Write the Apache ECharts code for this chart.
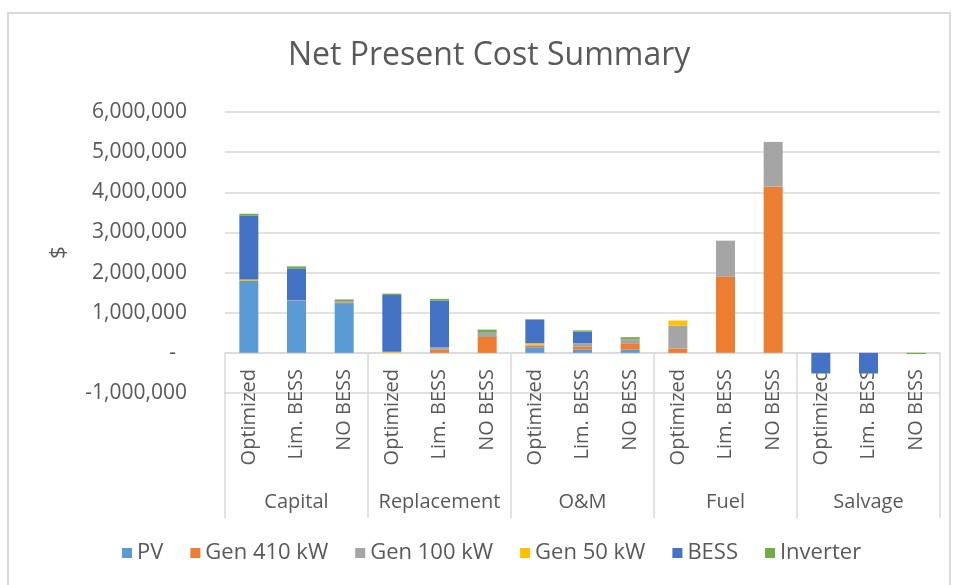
<!DOCTYPE html>
<html>
<head>
<meta charset="utf-8">
<script src="https://cdn.jsdelivr.net/npm/echarts@6/dist/echarts.min.js"></script>
<style>
  html, body { margin: 0; padding: 0; background: #fff; }
  #chart { width: 958px; height: 585px; }
</style>
</head>
<body>
<div id="chart"></div>
<script>
// 类目（内层 / 外层）
var scenarios = ['Optimized', 'Lim. BESS', 'NO BESS'];
var costTypes = ['Capital', 'Replacement', 'O&M', 'Fuel', 'Salvage'];
var categories = [];
costTypes.forEach(function () { categories = categories.concat(scenarios); });

// 各组件数值（$）
var pv       = [1790000, 1295000, 1240000, 0, 0, 0, 140000, 80000, 80000, 0, 0, 0, 0, 0, 0];
var gen410   = [0, 0, 20000, 0, 75000, 395000, 40000, 70000, 160000, 110000, 1895000, 4140000, 0, 0, 0];
var gen100   = [0, 20000, 30000, 0, 60000, 125000, 20000, 90000, 100000, 570000, 900000, 1115000, 0, 0, 0];
var gen50    = [40000, 0, 0, 30000, 0, 0, 40000, 0, 0, 125000, 0, 0, 0, 0, 0];
var bess     = [1590000, 790000, 0, 1410000, 1170000, 0, 590000, 290000, 0, 0, 0, 0, -510000, -510000, 0];
var inverter = [45000, 50000, 40000, 35000, 40000, 60000, 10000, 30000, 50000, 0, 0, 0, -10000, -10000, -30000];

var seriesNames = ['PV', 'Gen 410 kW', 'Gen 100 kW', 'Gen 50 kW', 'BESS', 'Inverter'];
var seriesData = [pv, gen410, gen100, gen50, bess, inverter];
var colors = ['#5B9BD5', '#ED7D31', '#A5A5A5', '#FFC000', '#4472C4', '#70AD47'];

var font = '"Open Sans", "DejaVu Sans", sans-serif';
var textColor = '#595959';
var lineColor = '#D9D9D9';

var myChart = echarts.init(document.getElementById('chart'));

var option = {
  color: colors,
  animation: false,
  textStyle: { fontFamily: font },
  title: {
    text: 'Net Present Cost Summary',
    left: 283,
    top: 35,
    textStyle: { fontFamily: font, fontSize: 32, fontWeight: 'normal', color: textColor }
  },
  // 外框
  graphic: [{
    type: 'rect',
    shape: { x: 8, y: 13, width: 942, height: 600 },
    style: { fill: 'none', stroke: lineColor, lineWidth: 2 },
    silent: true
  }],
  legend: {
    left: 117,
    top: 537,
    icon: 'rect',
    itemWidth: 10,
    itemHeight: 10,
    itemGap: 27,
    textStyle: { fontFamily: font, fontSize: 22, color: textColor },
    data: seriesNames
  },
  grid: { left: 225, right: 18, top: 112, bottom: 192 },
  xAxis: [
    {
      type: 'category',
      data: categories,
      position: 'bottom',
      offset: -40,
      axisLine: { show: true, onZero: false, lineStyle: { color: lineColor, width: 1.5 } },
      axisTick: { show: false },
      axisLabel: {
        interval: 0,
        rotate: 90,
        margin: 16,
        fontFamily: font,
        fontSize: 20,
        color: textColor
      }
    },
    {
      type: 'category',
      data: costTypes,
      position: 'bottom',
      offset: -40,
      axisLine: { show: false, onZero: false },
      axisTick: { show: true, length: 165, lineStyle: { color: lineColor, width: 1.5 } },
      axisLabel: {
        interval: 0,
        margin: 139,
        fontFamily: font,
        fontSize: 20,
        color: textColor
      }
    }
  ],
  yAxis: {
    type: 'value',
    min: -1000000,
    max: 6000000,
    interval: 1000000,
    name: '$',
    nameLocation: 'middle',
    nameRotate: 90,
    nameGap: 155,
    nameTextStyle: { fontFamily: font, fontSize: 22, color: textColor },
    axisLine: { show: false },
    axisTick: { show: false },
    axisLabel: {
      margin: 38,
      fontFamily: font,
      fontSize: 21,
      color: textColor,
      formatter: function (v) {
        if (v === 0) return '-  ';
        return v.toLocaleString('en-US');
      }
    },
    splitLine: { lineStyle: { color: lineColor, width: 1.5 } }
  },
  series: seriesNames.map(function (name, i) {
    return {
      name: name,
      type: 'bar',
      stack: 'npc',
      barWidth: 19,
      xAxisIndex: 0,
      data: seriesData[i]
    };
  })
};

option && myChart.setOption(option);
</script>
</body>
</html>
